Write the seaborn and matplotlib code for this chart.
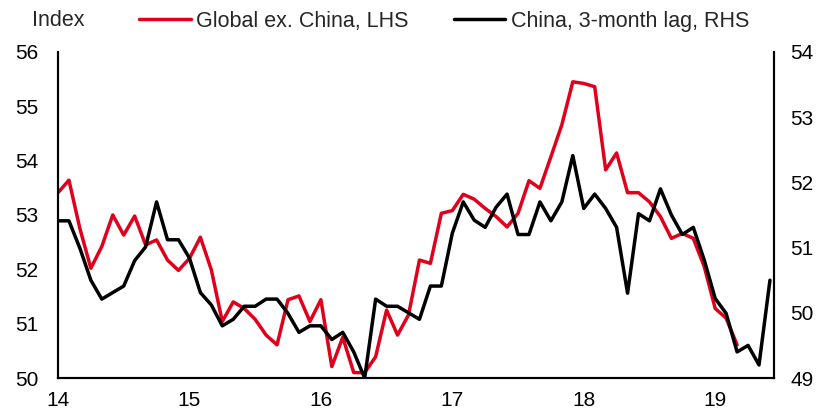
import matplotlib
matplotlib.use('Agg')
import matplotlib.pyplot as plt
import seaborn as sns
import numpy as np
import pandas as pd

# monthly PMI readings, Jan 2014 onwards
global_ex_china = [53.41, 53.64, 52.75, 52.02, 52.42, 53.0, 52.63, 52.98, 52.45, 52.54,
                   52.17, 51.98, 52.2, 52.59, 51.99, 51.04, 51.4, 51.28, 51.08, 50.79,
                   50.61, 51.44, 51.51, 51.04, 51.44, 50.21, 50.75, 50.1, 50.1, 50.39,
                   51.25, 50.79, 51.16, 52.17, 52.11, 53.03, 53.08, 53.38, 53.29, 53.12,
                   52.97, 52.78, 53.03, 53.63, 53.49, 54.07, 54.66, 55.45, 55.42, 55.36,
                   53.83, 54.14, 53.41, 53.41, 53.24, 52.97, 52.57, 52.66, 52.57, 52.05,
                   51.28, 51.1, 50.61]
china_lag = [51.41, 51.41, 50.99, 50.5, 50.21, 50.31, 50.41, 50.8, 51.01, 51.7,
             51.12, 51.12, 50.84, 50.31, 50.12, 49.8, 49.9, 50.1, 50.1, 50.21,
             50.21, 49.99, 49.7, 49.8, 49.8, 49.59, 49.7, 49.4, 49.0, 50.21,
             50.1, 50.1, 50.0, 49.9, 50.41, 50.41, 51.22, 51.7, 51.42, 51.31,
             51.62, 51.82, 51.2, 51.2, 51.7, 51.41, 51.7, 52.41, 51.6, 51.82,
             51.6, 51.31, 50.3, 51.52, 51.41, 51.9, 51.5, 51.2, 51.31, 50.81,
             50.22, 49.99, 49.4, 49.5, 49.2, 50.5]
year_labels = ['14', '15', '16', '17', '18', '19']

red = '#E0001B'

df_g = pd.DataFrame({'month': np.arange(len(global_ex_china)), 'value': global_ex_china})
df_c = pd.DataFrame({'month': np.arange(len(china_lag)), 'value': china_lag})

sns.set_style('white')
plt.rcParams['font.family'] = ['Liberation Sans', 'DejaVu Sans']

fig = plt.figure(figsize=(8.19, 4.12), dpi=100)
ax = fig.add_axes([0.0708, 0.0825, 0.874, 0.7915])
ax2 = ax.twinx()

sns.lineplot(data=df_g, x='month', y='value', ax=ax, color=red, linewidth=2.5,
             label='Global ex. China, LHS', legend=False)
sns.lineplot(data=df_c, x='month', y='value', ax=ax2, color='black', linewidth=2.5,
             label='China, 3-month lag, RHS', legend=False)

ax.set_xlim(0, 65.35)
ax.set_ylim(50, 56)
ax2.set_ylim(49, 54)
ax.set_xticks(np.arange(0, 72, 12)[:len(year_labels)])
ax.set_xticklabels(year_labels)
ax.set_yticks(np.arange(50, 57))
ax2.set_yticks(np.arange(49, 55))
for a in (ax, ax2):
    a.set_xlabel('')
    a.set_ylabel('')
    a.tick_params(length=0, labelsize=15, colors='black')
    for s in a.spines.values():
        s.set_color('black')
        s.set_linewidth(1.5)
    a.spines['top'].set_visible(False)
ax.tick_params(axis='y', pad=14)
ax2.tick_params(axis='y', pad=12)
ax.tick_params(axis='x', pad=9)

fig.text(32 / 819, 1 - 20 / 412, 'Index', fontsize=15.5, va='center', ha='left')

h1, l1 = ax.get_legend_handles_labels()
h2, l2 = ax2.get_legend_handles_labels()
fig.legend(h1 + h2, l1 + l2, ncol=2, frameon=False, fontsize=15.5,
           loc='center left', bbox_to_anchor=(139 / 819, 1 - 21 / 412),
           handlelength=2.4, handletextpad=0.25, columnspacing=2.1,
           borderaxespad=0, borderpad=0)

plt.savefig('out.png', dpi=100)
